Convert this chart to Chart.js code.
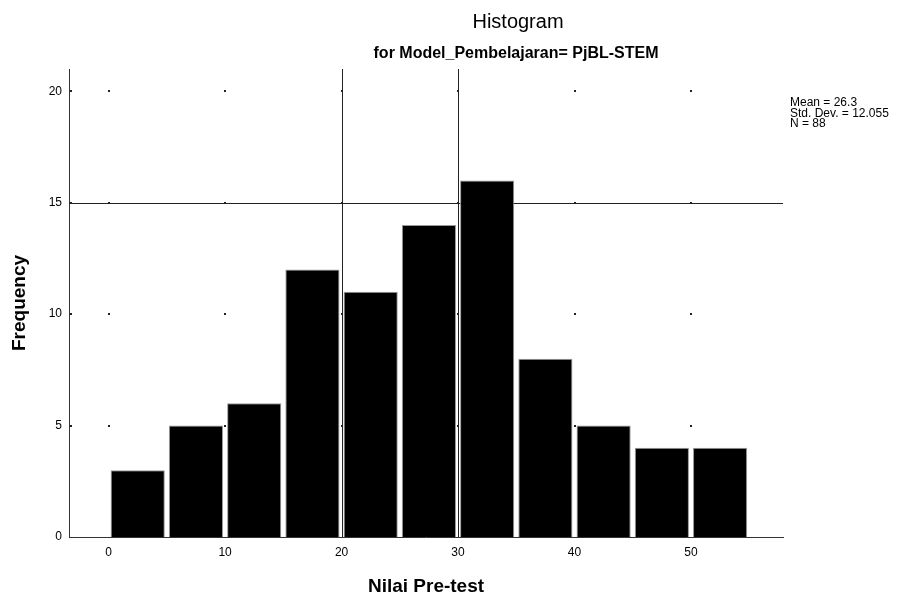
<!DOCTYPE html>
<html>
<head>
<meta charset="utf-8">
<script src="https://cdn.jsdelivr.net/npm/chart.js@4.4.1/dist/chart.umd.min.js"></script>
<style>
  html, body { margin: 0; padding: 0; background: #fff; }
</style>
</head>
<body>
<canvas id="chart" width="904" height="601"></canvas>
<script>
// histogram bins (midpoints of the 5-wide bins) and counts
const binCenters = [2.5, 7.5, 12.5, 17.5, 22.5, 27.5, 32.5, 37.5, 42.5, 47.5, 52.5];
const frequencies = [3, 5, 6, 12, 11, 14, 16, 8, 5, 4, 4];

const xTicks = [0, 10, 20, 30, 40, 50];
const yTicks = [0, 5, 10, 15, 20];

// reference lines drawn by SPSS
const refX = [20, 30];
const refY = [15];

const titleText = 'Histogram';
const subtitleText = 'for Model_Pembelajaran= PjBL-STEM';
const statsLines = ['Mean = 26.3', 'Std. Dev. = 12.055', 'N = 88'];

const FONT = '"Liberation Sans", Arial, sans-serif';

// reference lines + small grid dots, behind the bars
const backdrop = {
  id: 'backdrop',
  beforeDatasetsDraw(chart) {
    const { ctx, chartArea, scales } = chart;
    ctx.save();
    ctx.strokeStyle = '#222';
    ctx.lineWidth = 1;
    refX.forEach(v => {
      const x = Math.round(scales.x.getPixelForValue(v)) + 0.5;
      ctx.beginPath();
      ctx.moveTo(x, chartArea.top);
      ctx.lineTo(x, chartArea.bottom);
      ctx.stroke();
    });
    refY.forEach(v => {
      const y = Math.round(scales.y.getPixelForValue(v)) + 0.5;
      ctx.beginPath();
      ctx.moveTo(chartArea.left, y);
      ctx.lineTo(chartArea.right, y);
      ctx.stroke();
    });

    ctx.fillStyle = '#222';
    yTicks.filter(v => v > 0).forEach(yv => {
      const y = Math.round(scales.y.getPixelForValue(yv));
      ctx.fillRect(chartArea.left + 1, y - 1, 2, 2);
      xTicks.forEach(xv => {
        const x = Math.round(scales.x.getPixelForValue(xv));
        ctx.fillRect(x - 1, y - 1, 2, 2);
      });
    });
    ctx.restore();
  }
};

// titles and the statistics box
const texts = {
  id: 'texts',
  afterDraw(chart) {
    const { ctx } = chart;
    ctx.save();
    ctx.fillStyle = '#000';
    ctx.textBaseline = 'alphabetic';
    ctx.textAlign = 'center';
    ctx.font = '20px ' + FONT;
    ctx.fillText(titleText, 518, 28);
    ctx.font = 'bold 16px ' + FONT;
    ctx.fillText(subtitleText, 516, 58);

    ctx.textAlign = 'left';
    ctx.font = '12px ' + FONT;
    statsLines.forEach((s, i) => ctx.fillText(s, 790, 106 + i * 10.5));
    ctx.restore();
  }
};

const ctx = document.getElementById('chart').getContext('2d');
new Chart(ctx, {
  type: 'bar',
  data: {
    datasets: [{
      data: binCenters.map((x, i) => ({ x: x, y: frequencies[i] })),
      backgroundColor: '#000',
      borderColor: '#999',
      borderWidth: 1,
      barPercentage: 0.93,
      categoryPercentage: 1
    }]
  },
  options: {
    responsive: false,
    devicePixelRatio: 1,
    animation: false,
    layout: { padding: { top: 69, right: 121, left: 0, bottom: 0 } },
    plugins: {
      legend: { display: false },
      tooltip: { enabled: false }
    },
    scales: {
      x: {
        type: 'linear',
        offset: false,
        min: -3.4,
        max: 57.9,
        grid: { display: false, offset: false, drawTicks: false },
        border: { display: true, color: '#333', width: 1 },
        afterBuildTicks: s => { s.ticks = xTicks.map(v => ({ value: v })); },
        afterFit: s => { s.height = 64; },
        ticks: { color: '#000', padding: 8, font: { family: FONT, size: 12 } },
        title: {
          display: true,
          text: 'Nilai Pre-test',
          color: '#000',
          font: { family: FONT, size: 19, weight: 'bold' },
          padding: { top: 0, bottom: 3 }
        }
      },
      y: {
        min: 0,
        max: 21,
        grid: { display: false, drawTicks: false },
        border: { display: true, color: '#333', width: 1 },
        afterBuildTicks: s => { s.ticks = yTicks.map(v => ({ value: v })); },
        afterFit: s => { s.width = 69; },
        ticks: { color: '#000', padding: 7, font: { family: FONT, size: 12 } },
        title: {
          display: true,
          text: 'Frequency',
          color: '#000',
          font: { family: FONT, size: 19, weight: 'bold' },
          padding: { top: 8, bottom: 0 }
        }
      }
    }
  },
  plugins: [backdrop, texts]
});
</script>
</body>
</html>
